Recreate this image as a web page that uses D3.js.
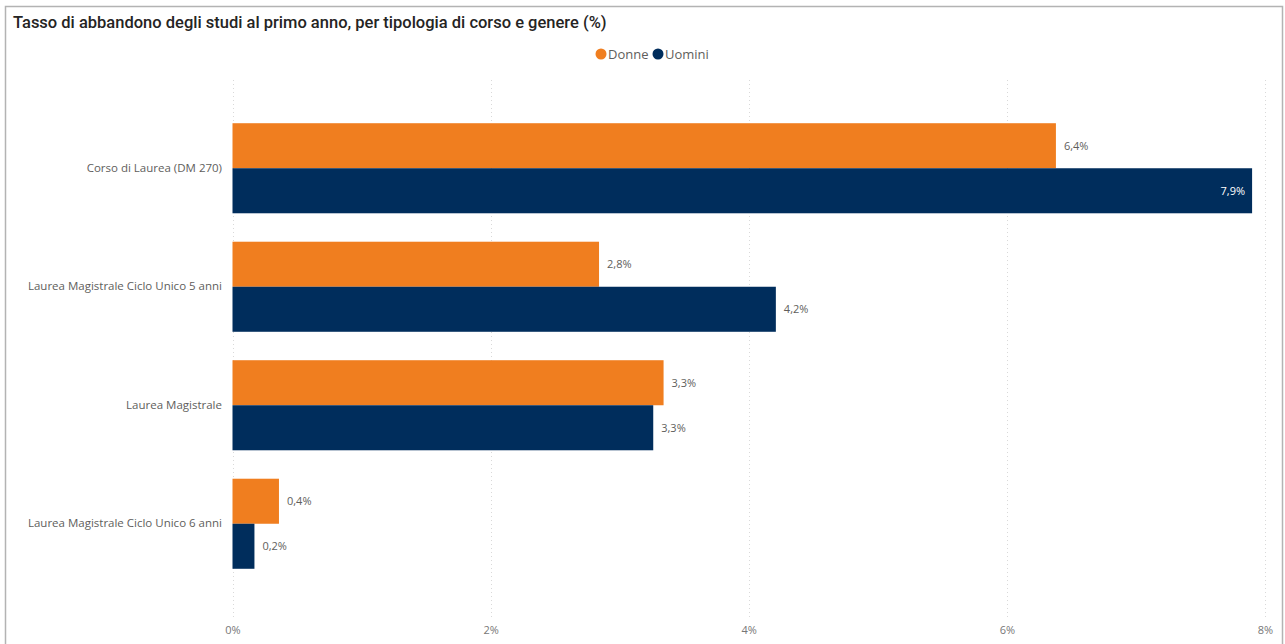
<!DOCTYPE html>
<html>
<head>
<meta charset="utf-8">
<script src="https://cdn.jsdelivr.net/npm/d3@7"></script>
<style>
	body { margin: 0; background: #fff; }
	svg { display: block; }
</style>
</head>
<body>
<svg width="1285" height="644"></svg>
<script>
var categories = ["Corso di Laurea (DM 270)", "Laurea Magistrale Ciclo Unico 5 anni", "Laurea Magistrale", "Laurea Magistrale Ciclo Unico 6 anni"];
var series = ["Donne", "Uomini"];
var donne = [6.38, 2.84, 3.34, 0.36];
var uomini = [7.9, 4.21, 3.26, 0.17];
var xTicks = [0, 2, 4, 6, 8];

(function () {
	var svg = d3.select("svg");
	var colors = {Donne: "#F07E1F", Uomini: "#002D5C"};
	var fmt = function (v) { return d3.format(".1f")(v).replace(".", ",") + "%"; };

	// frame
	svg.append("rect")
		.attr("x", 5.5).attr("y", 6.5)
		.attr("width", 1277).attr("height", 650)
		.attr("fill", "none")
		.attr("stroke", "#b3b3b3")
		.attr("stroke-width", 1.5);

	svg.append("text")
		.attr("x", 13).attr("y", 28)
		.attr("font-family", "Roboto, sans-serif")
		.attr("font-size", 16.5)
		.attr("font-weight", 500)
		.attr("fill", "#252423")
		.text("Tasso di abbandono degli studi al primo anno, per tipologia di corso e genere (%)");

	// legend
	var legend = svg.append("g").attr("font-family", "'Open Sans', sans-serif").attr("font-size", 13);
	var lx = [601, 658];
	series.forEach(function (s, i) {
		legend.append("circle").attr("cx", lx[i]).attr("cy", 54).attr("r", 5.5).attr("fill", colors[s]);
		legend.append("text").attr("x", lx[i] + 7).attr("y", 58.5).attr("fill", "#605E5C").text(s);
	});

	var x = d3.scaleLinear().domain([0, 8]).range([232.5, 1265]);
	var y = d3.scaleBand().domain(categories).range([109, 583]).paddingInner(0.24).paddingOuter(0.12);
	var ys = d3.scaleBand().domain(series).range([0, y.bandwidth()]);

	var g = svg.append("g");

	// grid
	g.selectAll(".grid")
		.data(xTicks)
		.enter().append("line")
		.attr("x1", function (d) { return Math.round(x(d)) + 0.5; })
		.attr("x2", function (d) { return Math.round(x(d)) + 0.5; })
		.attr("y1", 80).attr("y2", 620)
		.attr("stroke", "#d9d9d9")
		.attr("stroke-dasharray", "1,3");

	var xAxis = g.append("g")
		.attr("transform", "translate(0,620)")
		.call(d3.axisBottom(x).tickValues(xTicks).tickSize(0).tickPadding(6).tickFormat(function (d) { return d + "%"; }));
	xAxis.select(".domain").remove();
	xAxis.selectAll("text")
		.attr("font-family", "'Open Sans', sans-serif")
		.attr("font-size", 11)
		.attr("fill", "#777");

	var yAxis = g.append("g")
		.attr("transform", "translate(222,0)")
		.call(d3.axisLeft(y).tickSize(0).tickPadding(0));
	yAxis.select(".domain").remove();
	yAxis.selectAll("text")
		.attr("font-family", "'Open Sans', sans-serif")
		.attr("font-size", 11.5)
		.attr("fill", "#605E5C");

	var rows = categories.map(function (c, i) {
		return [{cat: c, s: "Donne", v: donne[i]}, {cat: c, s: "Uomini", v: uomini[i]}];
	});
	var flat = [].concat.apply([], rows);

	g.selectAll(".bar")
		.data(flat)
		.enter().append("rect")
		.attr("class", "bar")
		.attr("x", x(0))
		.attr("y", function (d) { return y(d.cat) + ys(d.s); })
		.attr("width", function (d) { return x(d.v) - x(0); })
		.attr("height", ys.bandwidth())
		.attr("fill", function (d) { return colors[d.s]; });

	g.selectAll(".lbl")
		.data(flat)
		.enter().append("text")
		.attr("class", "lbl")
		.attr("font-family", "'Open Sans', sans-serif")
		.attr("font-size", 11)
		.attr("x", function (d) { return d.v > 7.5 ? x(d.v) - 7 : x(d.v) + 8; })
		.attr("y", function (d) { return y(d.cat) + ys(d.s) + ys.bandwidth() / 2 + 4; })
		.attr("text-anchor", function (d) { return d.v > 7.5 ? "end" : "start"; })
		.attr("fill", function (d) { return d.v > 7.5 ? "#fff" : "#605E5C"; })
		.text(function (d) { return fmt(d.v); });
}) ();
</script>
</body>
</html>
